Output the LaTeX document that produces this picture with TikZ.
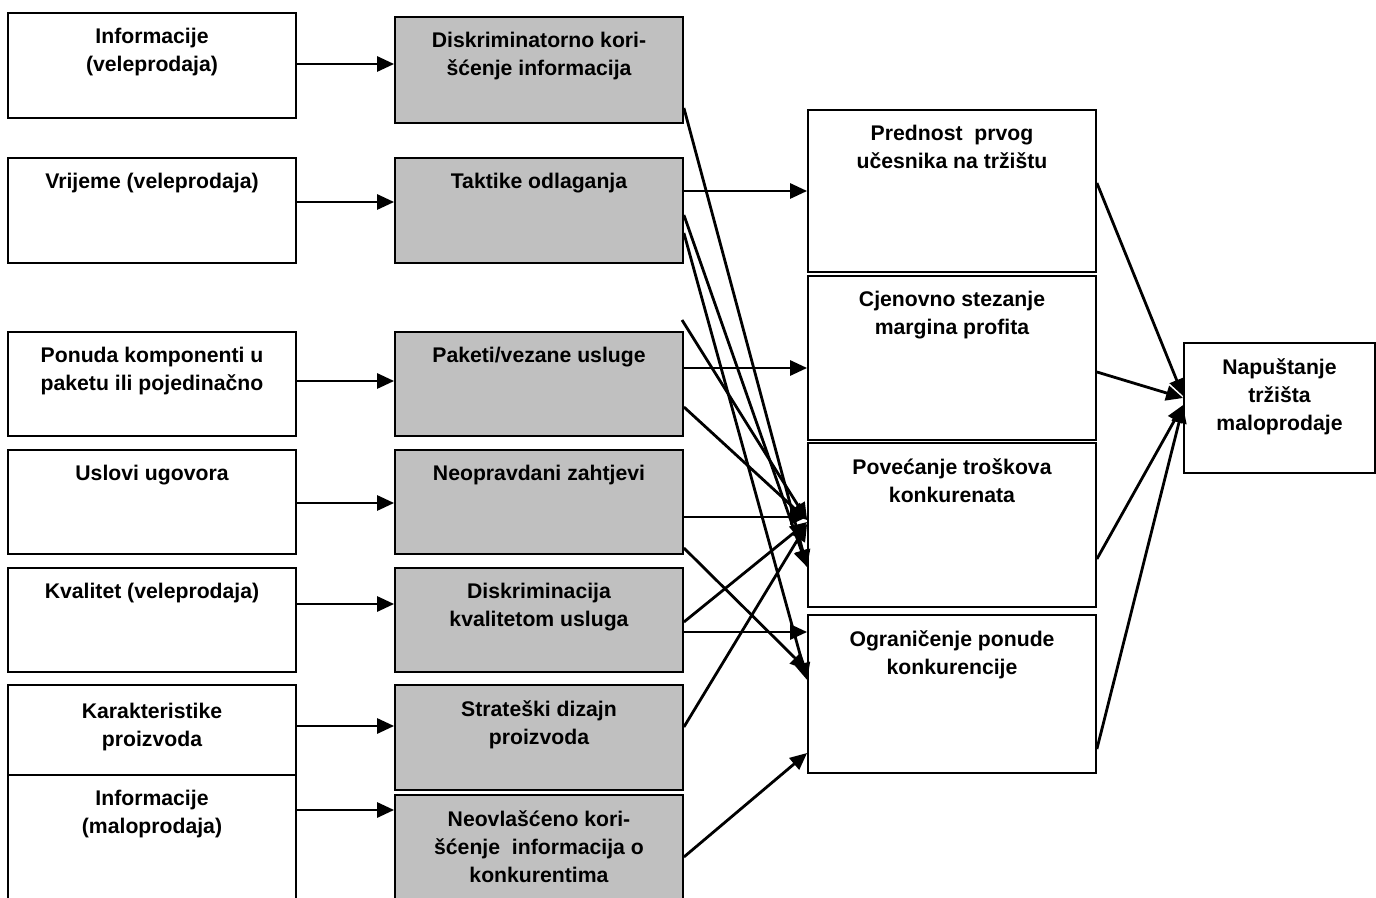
\documentclass[tikz,border=0pt]{standalone}
\usepackage{fontspec}
\setmainfont{Liberation Sans}
\usepackage{tikz}
\usetikzlibrary{ arrows.meta, positioning }
\definecolor{boxgray}{RGB}{192,192,192}
\tikzset{
>={Triangle[length=8.5pt,width=7.5pt]}, % filled arrow heads
box/.style={draw, line width=0.9pt, minimum width=144pt, inner sep=0pt}, % white box
grey box/.style={box, fill=boxgray}, % shaded box of the middle column
box text/.style={font=\bfseries\fontsize{10.6}{14}\selectfont, align=center, inner sep=0pt},
every edge/.style={draw, line width=1.4pt},
}

\begin{document}
\begin{tikzpicture}[x=0.5pt, y=-0.5pt]% one unit = one pixel of the original
  \useasboundingbox (0,0) rectangle (1376,898);

  % left column
  \node[box, minimum height=52.5pt] (a1) at (152,65.5) {};
  \node[box, minimum height=52.5pt] (a2) at (152,210.5) {};
  \node[box, minimum height=52pt] (a3) at (152,384) {};
  \node[box, minimum height=52pt] (a4) at (152,502) {};
  \node[box, minimum height=52pt] (a5) at (152,620) {};
  \node[box, minimum height=45pt] (a6) at (152,730) {};
  \node[box, minimum height=65pt] (a7) at (152,840) {};

  % middle column
  \node[grey box, minimum height=53pt] (b1) at (539,70) {};
  \node[grey box, minimum height=52.5pt] (b2) at (539,210.5) {};
  \node[grey box, minimum height=52pt] (b3) at (539,384) {};
  \node[grey box, minimum height=52pt] (b4) at (539,502) {};
  \node[grey box, minimum height=52pt] (b5) at (539,620) {};
  \node[grey box, minimum height=52.5pt] (b6) at (539,737.5) {};
  \node[grey box, minimum height=55pt] (b7) at (539,850) {};

  % right column
  \node[box, minimum height=81pt] (c1) at (952,191) {};
  \node[box, minimum height=82pt] (c2) at (952,358) {};
  \node[box, minimum height=82pt] (c3) at (952,525) {};
  \node[box, minimum height=79pt] (c4) at (952,694) {};
  \node[box, minimum width=95.5pt, minimum height=65pt] (d) at (1279.5,408) {};

  \coordinate (stray) at (682,320);

  % texts
  \node[box text, below=8pt of a1.north] (a1t) {Informacije\\(veleprodaja)};
  \node[box text, below=8pt of a2.north] (a2t) {Vrijeme (veleprodaja)};
  \node[box text, below=8pt of a3.north] (a3t) {Ponuda komponenti u\\paketu ili pojedinačno};
  \node[box text, below=8pt of a4.north] (a4t) {Uslovi ugovora};
  \node[box text, below=8pt of a5.north] (a5t) {Kvalitet (veleprodaja)};
  \node[box text, below=9.5pt of a6.north] (a6t) {Karakteristike\\proizvoda};
  \node[box text, below=8pt of a7.north] (a7t) {Informacije\\(maloprodaja)};

  \node[box text, below=8pt of b1.north] (b1t) {Diskriminatorno kori-\\šćenje informacija};
  \node[box text, below=8pt of b2.north] (b2t) {Taktike odlaganja};
  \node[box text, below=8pt of b3.north] (b3t) {Paketi/vezane usluge};
  \node[box text, below=8pt of b4.north] (b4t) {Neopravdani zahtjevi};
  \node[box text, below=8pt of b5.north] (b5t) {Diskriminacija\\kvalitetom usluga};
  \node[box text, below=8pt of b6.north] (b6t) {Strateški dizajn\\proizvoda};
  \node[box text, below=8pt of b7.north] (b7t) {Neovlašćeno kori-\\šćenje\ \ informacija o\\konkurentima};

  \node[box text, below=8pt of c1.north] (c1t) {Prednost\ \ prvog\\učesnika na tržištu};
  \node[box text, below=8pt of c2.north] (c2t) {Cjenovno stezanje\\margina profita};
  \node[box text, below=8pt of c3.north] (c3t) {Povećanje troškova\\konkurenata};
  \node[box text, below=8pt of c4.north] (c4t) {Ograničenje ponude\\konkurencije};
  \node[box text, below=8pt of d.north] (dt) {Napuštanje\\tržišta\\maloprodaje};

  \path[->]
  (a1.east |- 0,64) edge (b1.west |- 0,64)
  (a2.east |- 0,202) edge (b2.west |- 0,202)
  (a3.east |- 0,381) edge (b3.west |- 0,381)
  (a4.east |- 0,503) edge (b4.west |- 0,503)
  (a5.east |- 0,604) edge (b5.west |- 0,604)
  (a6.east |- 0,726) edge (b6.west |- 0,726)
  (a7.east |- 0,810) edge (b7.west |- 0,810)

  (b1.east |- 0,108) edge (c3.west |- 0,567)
  (b2.east |- 0,191) edge (c1.west |- 0,191)
  (b2.east |- 0,215) edge (c3.west |- 0,567)
  (b2.east |- 0,233) edge (c4.west |- 0,680)
  (stray) edge (c3.west |- 0,520)
  (b3.east |- 0,368) edge (c2.west |- 0,368)
  (b3.east |- 0,407) edge (c3.west |- 0,520)
  (b4.east |- 0,517) edge (c3.west |- 0,517)
  (b4.east |- 0,548) edge (c4.west |- 0,670)
  (b5.east |- 0,632) edge (c4.west |- 0,632)
  (b5.east |- 0,622) edge (c3.west |- 0,522)
  (b6.east |- 0,727) edge (c3.west |- 0,524)
  (b7.east |- 0,857) edge (c4.west |- 0,753)

  (c1.east |- 0,183) edge (d.west |- 0,396)
  (c2.east |- 0,372) edge (d.west |- 0,398)
  (c3.east |- 0,559) edge (d.west |- 0,405)
  (c4.east |- 0,749) edge (d.west |- 0,406);
\end{tikzpicture}
\end{document}
